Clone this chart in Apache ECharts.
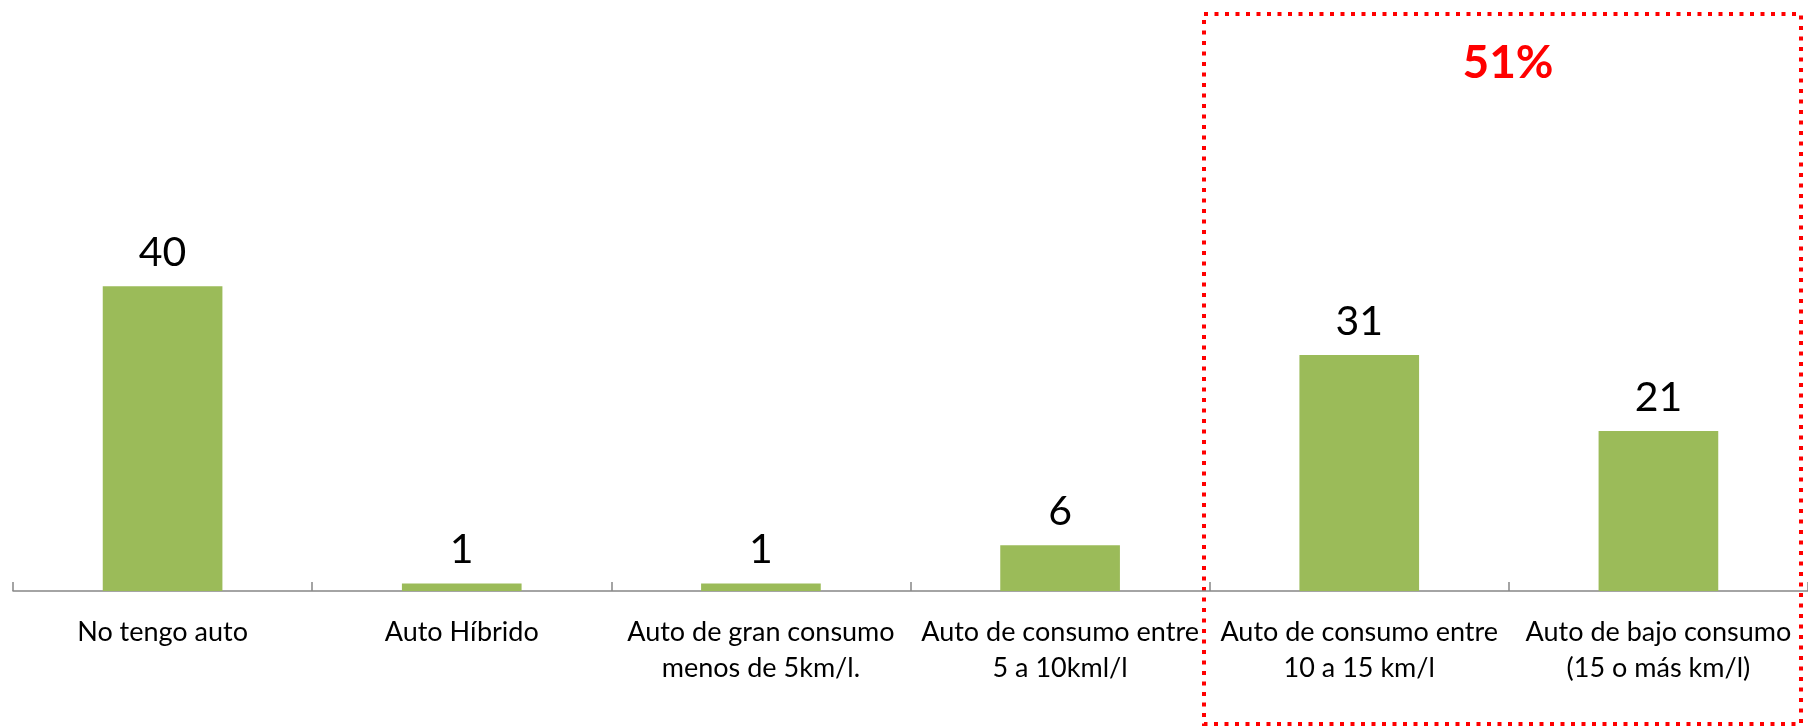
<!DOCTYPE html>
<html>
<head>
<meta charset="utf-8">
<script src="https://cdn.jsdelivr.net/npm/echarts@6/dist/echarts.min.js"></script>
<style>
  html, body { margin: 0; padding: 0; background: #ffffff; }
  #chart { width: 1808px; height: 726px; }
</style>
</head>
<body>
<div id="chart"></div>
<script>
// Tipo de auto que posee cada encuestado
const categories = [
  'No tengo auto',
  'Auto Híbrido',
  'Auto de gran consumo\nmenos de 5km/l.',
  'Auto de consumo entre\n5 a 10kml/l',
  'Auto de consumo entre\n10 a 15 km/l',
  'Auto de bajo consumo\n(15 o más km/l)'
];
const values = [40, 1, 1, 6, 31, 21];

// Recuadro destacado: autos de consumo eficiente
const highlightText = '51%';

const FONT = 'Lato, "Open Sans", sans-serif';
const chart = echarts.init(document.getElementById('chart'));

chart.setOption({
  backgroundColor: '#ffffff',
  animation: false,
  grid: { left: 13, right: 0, top: 134, bottom: 135, containLabel: false },
  xAxis: {
    type: 'category',
    data: categories,
    axisLine: { lineStyle: { color: '#878787', width: 1.5 } },
    axisTick: { show: true, inside: true, length: 9, alignWithLabel: false, lineStyle: { color: '#878787', width: 1.5 } },
    axisLabel: {
      interval: 0,
      margin: 23,
      color: '#000000',
      fontFamily: FONT,
      fontSize: 27,
      lineHeight: 36
    }
  },
  yAxis: {
    type: 'value',
    min: 0,
    max: 60,
    show: false,
    splitLine: { show: false }
  },
  series: [{
    type: 'bar',
    data: values,
    barWidth: '40%',
    itemStyle: { color: '#9BBB59' },
    label: {
      show: true,
      position: 'top',
      distance: 13,
      color: '#000000',
      fontFamily: FONT,
      fontSize: 41
    }
  }],
  graphic: [
    {
      type: 'rect',
      shape: { x: 1204, y: 14, width: 597, height: 710 },
      style: { fill: 'none', stroke: '#FF0000', lineWidth: 4, lineDash: [4, 6.5] },
      silent: true
    },
    {
      type: 'text',
      x: 1508,
      y: 63,
      style: {
        text: highlightText,
        fill: '#FF0000',
        font: 'bold 46px ' + FONT,
        align: 'center',
        verticalAlign: 'middle'
      },
      silent: true
    }
  ]
});
</script>
</body>
</html>
